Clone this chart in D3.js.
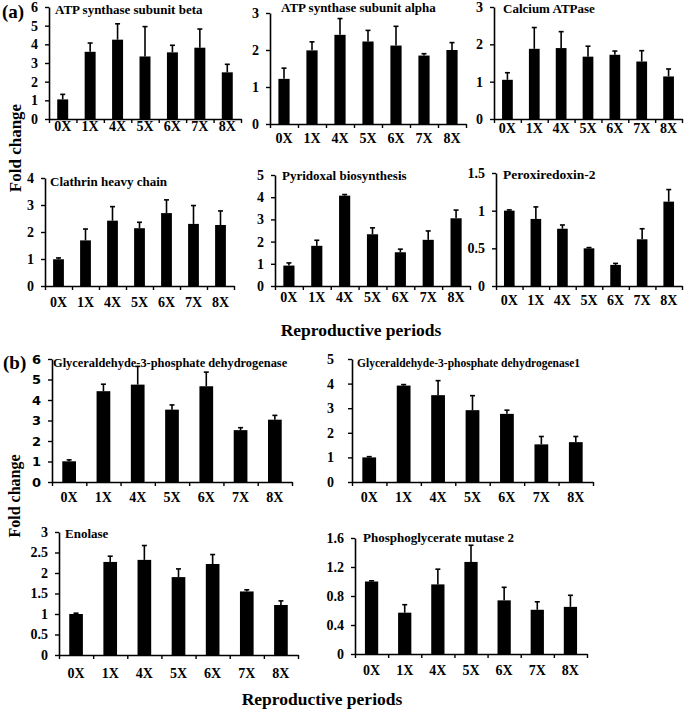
<!DOCTYPE html>
<html><head><meta charset="utf-8">
<script src="https://cdn.jsdelivr.net/npm/d3@7"></script>
<style>body{margin:0;background:#fff}svg{display:block}</style>
</head><body>
<script>
// ---------- data ----------
const periods = ["0X","1X","4X","5X","6X","7X","8X"];

const atpBeta      = [1.05, 3.60, 4.25, 3.35, 3.57, 3.82, 2.50];
const atpBetaErr   = [0.27, 0.47, 0.85, 1.60, 0.38, 1.00, 0.43];
const atpAlpha     = [1.22, 1.99, 2.41, 2.23, 2.12, 1.85, 2.00];
const atpAlphaErr  = [0.29, 0.23, 0.44, 0.30, 0.52, 0.05, 0.20];
const calcium      = [1.05, 1.88, 1.90, 1.67, 1.72, 1.54, 1.14];
const calciumErr   = [0.19, 0.57, 0.44, 0.28, 0.10, 0.29, 0.20];
const clathrin     = [0.99, 1.69, 2.42, 2.14, 2.70, 2.30, 2.26];
const clathrinErr  = [0.05, 0.42, 0.52, 0.22, 0.49, 0.68, 0.52];
const pyridoxal    = [0.92, 1.81, 4.07, 2.33, 1.52, 2.08, 3.05];
const pyridoxalErr = [0.12, 0.25, 0.05, 0.29, 0.14, 0.40, 0.37];
const perox        = [1.00, 0.89, 0.76, 0.50, 0.28, 0.62, 1.12];
const peroxErr     = [0.01, 0.16, 0.05, 0.01, 0.02, 0.14, 0.16];
const gapdh        = [1.01, 4.43, 4.75, 3.53, 4.67, 2.53, 3.04];
const gapdhErr     = [0.07, 0.34, 0.89, 0.23, 0.69, 0.12, 0.21];
const gapdh1       = [1.00, 3.92, 3.53, 2.92, 2.77, 1.53, 1.62];
const gapdh1Err    = [0.03, 0.04, 0.59, 0.59, 0.15, 0.32, 0.23];
const enolase      = [1.00, 2.27, 2.32, 1.90, 2.22, 1.55, 1.22];
const enolaseErr   = [0.02, 0.14, 0.35, 0.20, 0.23, 0.04, 0.10];
const pgm2         = [1.00, 0.57, 0.96, 1.27, 0.74, 0.61, 0.65];
const pgm2Err      = [0.01, 0.11, 0.21, 0.23, 0.18, 0.11, 0.16];

const ticks6  = [0,1,2,3,4,5,6];
const ticks5  = [0,1,2,3,4,5];
const ticks4  = [0,1,2,3,4];
const ticks3  = [0,1,2,3];
const ticks15 = [0,0.5,1,1.5];
const ticks30 = [0,0.5,1,1.5,2,2.5,3];
const ticks16 = [0,0.4,0.8,1.2,1.6];

const titles = ["ATP synthase subunit beta","ATP synthase subunit alpha","Calcium ATPase",
  "Clathrin heavy chain","Pyridoxal biosynthesis","Peroxiredoxin-2",
  "Glyceraldehyde-3-phosphate dehydrogenase","Glyceraldehyde-3-phosphate dehydrogenase1",
  "Enolase","Phosphoglycerate mutase 2"];

// ---------- layout ----------
const panels = [
  {title:titles[0], v:atpBeta,   e:atpBetaErr,   ticks:ticks6,  x0:49,  x1:241, yT:7,   yB:119, tx:55,  ty:14,  lab:7,  tfs:13},
  {title:titles[1], v:atpAlpha,  e:atpAlphaErr,  ticks:ticks3,  x0:270, x1:466, yT:13,  yB:124, tx:281, ty:12,  lab:14, tfs:13},
  {title:titles[2], v:calcium,   e:calciumErr,   ticks:ticks3,  x0:494, x1:682, yT:7,   yB:119, tx:503, ty:13,  lab:9,  tfs:13},
  {title:titles[3], v:clathrin,  e:clathrinErr,  ticks:ticks4,  x0:45,  x1:234, yT:178, yB:286, tx:50,  ty:186, lab:16, tfs:13},
  {title:titles[4], v:pyridoxal, e:pyridoxalErr, ticks:ticks5,  x0:275, x1:470, yT:175, yB:286, tx:282, ty:180, lab:11, tfs:13},
  {title:titles[5], v:perox,     e:peroxErr,     ticks:ticks15, x0:496, x1:682, yT:173, yB:286, tx:503, ty:179, lab:14, tfs:13.5},
  {title:titles[6], v:gapdh,     e:gapdhErr,     ticks:ticks6,  x0:52,  x1:292, yT:359, yB:482, tx:53,  ty:367, lab:15, tfs:12.4, sansY:true},
  {title:titles[7], v:gapdh1,    e:gapdh1Err,    ticks:ticks5,  x0:352, x1:593, yT:359, yB:482, tx:357, ty:367, lab:15, tfs:11.5, ypad:14},
  {title:titles[8], v:enolase,   e:enolaseErr,   ticks:ticks30, x0:59,  x1:298, yT:532, yB:655, tx:65,  ty:538, lab:18, tfs:13},
  {title:titles[9], v:pgm2,      e:pgm2Err,      ticks:ticks16, x0:355, x1:587, yT:538, yB:654, tx:363, ty:542, lab:16, tfs:13}
];

const serif = "'Liberation Serif','Times New Roman',serif";
const svg = d3.select("body").append("svg").attr("width",685).attr("height",711)
  .style("font-family", serif);

panels.forEach(p => {
  const g = svg.append("g");
  const x = d3.scaleBand().domain(periods).range([p.x0,p.x1]).paddingInner(0.6).paddingOuter(0.3);
  const xl = d3.scaleLinear().domain([0,periods.length]).range([p.x0,p.x1]);
  const y = d3.scaleLinear().domain([0,d3.max(p.ticks)]).range([p.yB,p.yT]);

  // bars
  g.selectAll("rect.bar").data(p.v).join("rect")
    .attr("x",(d,i)=>x(periods[i])).attr("width",x.bandwidth())
    .attr("y",d=>y(d)).attr("height",d=>y(0)-y(d)).attr("fill","#000");
  // error bars (upper)
  const cx = i => x(periods[i]) + x.bandwidth()/2;
  g.selectAll("line.eb").data(p.v).join("line")
    .attr("x1",(d,i)=>cx(i)).attr("x2",(d,i)=>cx(i))
    .attr("y1",d=>y(d)).attr("y2",(d,i)=>y(d+p.e[i]))
    .attr("stroke","#000").attr("stroke-width",1.6);
  g.selectAll("line.cap").data(p.v).join("line")
    .attr("x1",(d,i)=>cx(i)-2.5).attr("x2",(d,i)=>cx(i)+2.5)
    .attr("y1",(d,i)=>y(d+p.e[i])).attr("y2",(d,i)=>y(d+p.e[i]))
    .attr("stroke","#000").attr("stroke-width",1.6);

  // y axis
  const ya = g.append("g").attr("transform",`translate(${p.x0},0)`)
    .call(d3.axisLeft(y).tickValues(p.ticks).tickSize(4).tickSizeOuter(0)
      .tickPadding(p.ypad || 7).tickFormat(d=>String(d)));
  ya.selectAll("text").attr("font-size", p.sansY ? 13 : 14)
    .attr("font-weight","bold")
    .attr("font-family", p.sansY ? "'DejaVu Sans',Verdana,sans-serif" : serif)
    .attr("fill","#000");

  // x axis line with boundary ticks
  const xa = g.append("g").attr("transform",`translate(0,${p.yB})`)
    .call(d3.axisBottom(xl).tickValues(d3.range(periods.length+1)).tickSize(4)
      .tickSizeOuter(0).tickFormat(""));
  // x labels
  const xlab = g.append("g").attr("transform",`translate(0,${p.yB})`)
    .call(d3.axisBottom(x).tickSize(0).tickPadding(p.lab-5));
  xlab.select(".domain").remove();
  xlab.selectAll("text").attr("font-size",14).attr("font-weight","bold")
    .attr("font-family",serif).attr("fill","#000");

  [ya,xa].forEach(a=>{
    a.select(".domain").attr("stroke","#000").attr("stroke-width",1.6);
    a.selectAll(".tick line").attr("stroke","#000").attr("stroke-width",1.4);
  });

  // title
  g.append("text").attr("x",p.tx).attr("y",p.ty).text(p.title)
    .attr("font-size",p.tfs).attr("font-weight","bold").attr("fill","#000");
});

// labels
const lab = (t,x,y,fs,rot,anchor) => svg.append("text")
  .attr("transform",`translate(${x},${y})${rot?" rotate(-90)":""}`)
  .attr("text-anchor",anchor||"middle").attr("font-size",fs).attr("font-weight","bold")
  .attr("fill","#000").text(t);
lab("(a)",2,18,19,false,"start");
lab("(b)",3,369,19,false,"start");
lab("Fold change",21,148,17,true);
lab("Fold change",20,496,16,true);
lab("Reproductive periods",361,336,17.5);
lab("Reproductive periods",322,705,17.5);
</script>
</body></html>
